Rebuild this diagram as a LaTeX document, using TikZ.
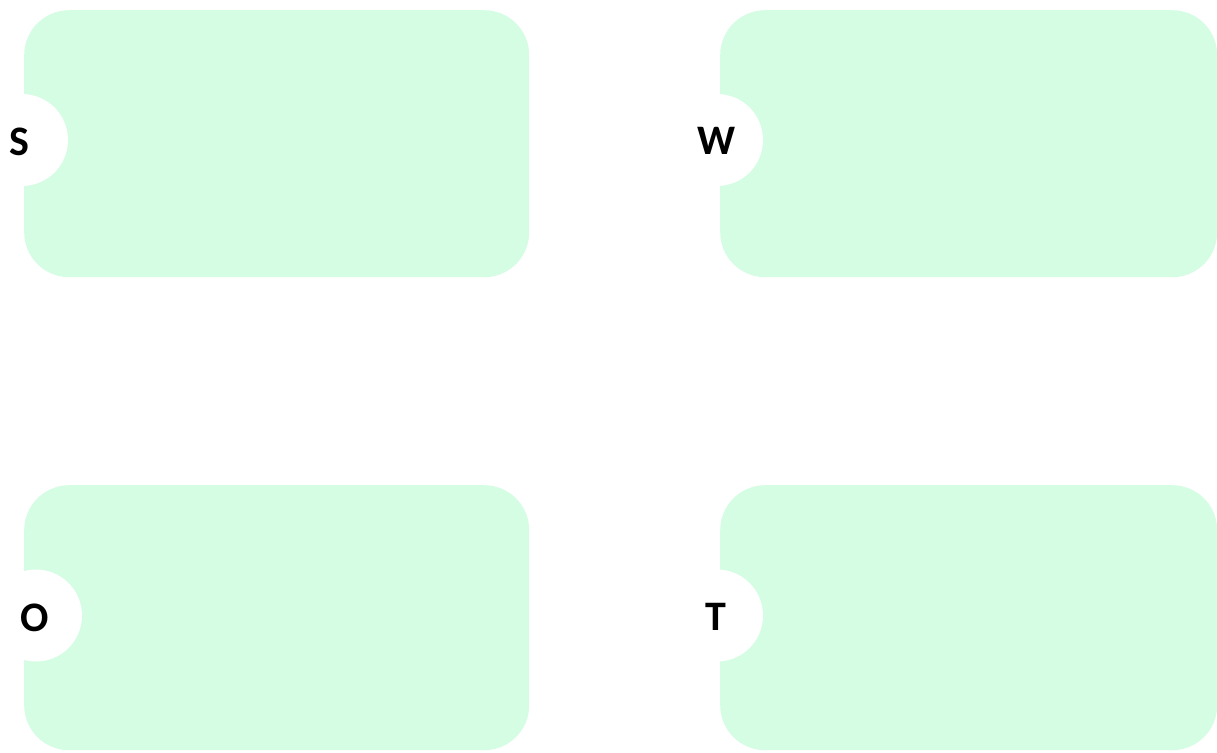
\documentclass[tikz,border=0pt]{standalone}
\usepackage{fontspec}
\setmainfont{Carlito}
\definecolor{boxgreen}{RGB}{212,253,227}
\begin{document}
\begin{tikzpicture}[x=1pt,y=-1pt,
  box/.style={fill=boxgreen, draw=none, rounded corners=45pt, inner sep=0pt, anchor=north west, minimum width=505pt, minimum height=267pt},
  notch/.style={circle, fill=white, draw=none, inner sep=0pt, minimum size=92pt},
  letter/.style={inner sep=0pt, font=\fontsize{42}{42}\selectfont\bfseries, text=black}]
\useasboundingbox[fill=white] (0,0) rectangle (1217,752);
\node[box] (sbox) at (24,10) {};
\node[box, minimum width=497pt] (wbox) at (720,10) {};
\node[box, minimum height=265pt] (obox) at (24,485) {};
\node[box, minimum width=497pt, minimum height=265pt] (tbox) at (720,485) {};
\node[notch] (snotch) at (22,140) {};
\node[notch] (wnotch) at (717,140) {};
\node[notch] (onotch) at (36,615.5) {};
\node[notch] (tnotch) at (717,615.5) {};
\node[letter] (s) at (19.5,141.5) {S};
\node[letter] (w) at (717,141) {W};
\node[letter] (o) at (34.5,617.5) {O};
\node[letter] (t) at (715.5,617) {T};
\end{tikzpicture}
\end{document}
